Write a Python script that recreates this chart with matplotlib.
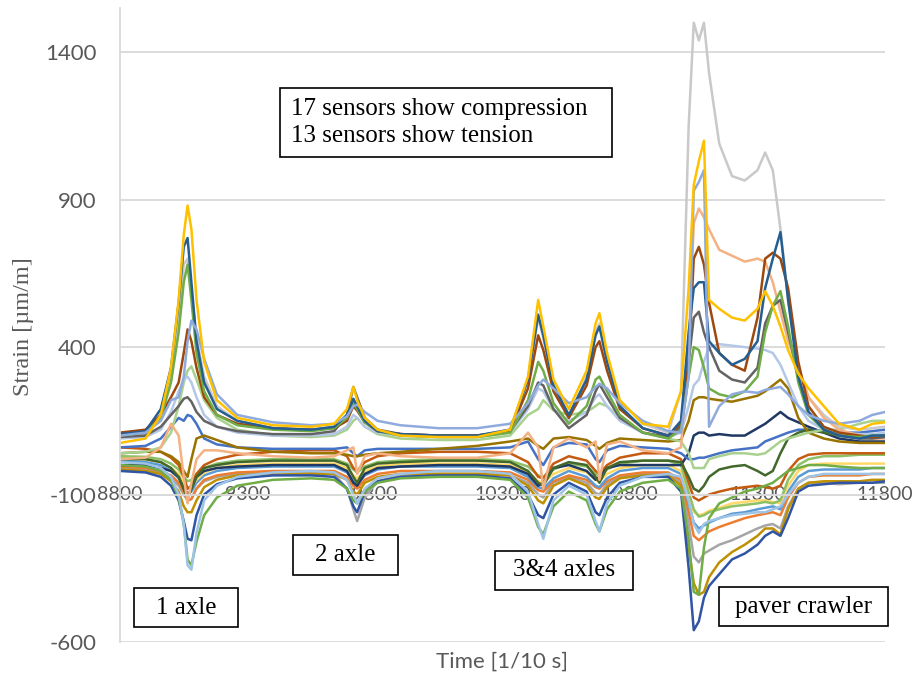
import matplotlib
matplotlib.use("Agg")
import matplotlib.pyplot as plt
from matplotlib.patches import Rectangle

plt.rcParams["axes.unicode_minus"] = False

# time grid [1/10 s] shared by all sensors
TIME = [8800, 8900, 8960, 9000, 9030, 9050, 9065, 9080, 9100, 9130,
        9180, 9260, 9400, 9550, 9640, 9690, 9715, 9730, 9760, 9810,
        9900, 10050, 10200, 10330, 10400, 10440, 10460, 10500, 10560, 10630,
        10665, 10680, 10710, 10760, 10850, 10950, 11000, 11030, 11050, 11070,
        11090, 11110, 11150, 11200, 11250, 11300, 11330, 11360, 11390, 11420,
        11460, 11500, 11560, 11620, 11700, 11750, 11800]

# strain [um/m]
S_LTGRAY = [95, 105, 170, 300, 500, 680, 700, 600, 430, 300,
            200, 150, 125, 120, 130, 160, 200, 185, 150, 120,
            105, 100, 100, 120, 290, 500, 430, 270, 160, 300,
            450, 480, 360, 220, 140, 110, 250, 1150, 1500, 1440,
            1500, 1330, 1090, 980, 965, 1000, 1060, 1000, 800, 560,
            330, 230, 170, 130, 120, 125, 130]
S_YELLOW = [75, 90, 170, 330, 560, 780, 880, 800, 560, 350,
            220, 160, 135, 130, 140, 190, 265, 220, 160, 120,
            100, 95, 95, 120, 300, 560, 470, 290, 190, 320,
            480, 515, 380, 220, 140, 130, 250, 600, 950, 1030,
            1100, 560, 530, 500, 490, 530, 590, 540, 470, 390,
            310, 260, 200, 140, 120, 140, 145]
S_DKBLUE = [105, 115, 190, 330, 550, 740, 770, 620, 420, 280,
            190, 150, 125, 120, 130, 170, 225, 200, 150, 115,
            105, 100, 100, 120, 290, 510, 440, 270, 170, 290,
            440, 470, 350, 200, 125, 100, 150, 450, 600, 620,
            620, 420, 380, 340, 360, 420, 600, 700, 790, 560,
            300, 180, 120, 100, 90, 100, 100]
S_BROWN = [110, 120, 170, 230, 280, 380, 460, 420, 330, 230,
           170, 140, 125, 120, 125, 150, 200, 185, 145, 115,
           105, 100, 100, 115, 260, 440, 390, 250, 160, 270,
           400, 420, 320, 190, 125, 100, 140, 350, 700, 740,
           680, 550, 380, 340, 320, 500, 700, 720, 700, 600,
           350, 200, 130, 110, 100, 95, 100]
S_DKGRAY = [95, 100, 130, 170, 200, 225, 230, 215, 180, 150,
            130, 115, 105, 105, 115, 170, 265, 230, 160, 120,
            105, 100, 100, 115, 200, 280, 270, 190, 125, 170,
            250, 275, 230, 160, 110, 95, 130, 350, 500, 520,
            450, 400, 320, 290, 280, 330, 480, 540, 560, 450,
            300, 180, 120, 100, 90, 90, 95]
S_GREEN = [100, 110, 160, 280, 450, 620, 680, 560, 380, 250,
           170, 135, 120, 115, 125, 160, 210, 190, 145, 115,
           100, 95, 95, 110, 220, 350, 320, 210, 140, 200,
           290, 300, 250, 170, 110, 90, 120, 300, 400, 390,
           330, 260, 240, 230, 250, 300, 450, 540, 590, 470,
           280, 170, 120, 100, 95, 100, 100]
S_LTGREEN = [40, 45, 60, 110, 200, 280, 320, 335, 290, 220,
             160, 120, 100, 95, 100, 120, 150, 160, 130, 105,
             90, 85, 85, 100, 170, 190, 220, 185, 170, 180,
             200, 210, 200, 160, 110, 90, 80, 40, -10, -10,
             -10, 20, 30, 40, 40, 35, 40, 60, 80, 90,
             100, 110, 120, 120, 140, 150, 150]
S_PERIWINKLE = [100, 110, 150, 220, 230, 300, 420, 490, 460, 360,
                240, 170, 145, 135, 140, 165, 200, 205, 180, 150,
                135, 125, 125, 140, 210, 270, 290, 260, 210, 230,
                265, 275, 260, 210, 150, 115, 110, 300, 930, 960,
                1000, 130, 200, 240, 250, 245, 255, 260, 265, 240,
                200, 170, 150, 140, 150, 170, 180]
S_LTORANGE = [20, 25, 60, 140, 100, -40, -130, -60, 20, 50,
              50, 40, 30, 25, 30, 50, 60, -30, 30, 40,
              30, 25, 25, 40, 110, 60, -80, 60, 90, 60,
              80, -50, 70, 80, 50, 40, 60, 400, 820, 870,
              840, 800, 730, 710, 690, 700, 690, 620, 520, 420,
              330, 230, 160, 120, 100, 90, 90]
S_OLIVE = [40, 45, 45, 30, 10, -20, -40, 20, 90, 100,
           85, 60, 45, 40, 40, 35, 30, 30, 35, 40,
           45, 55, 65, 80, 90, 65, 55, 90, 95, 85,
           65, 55, 75, 90, 85, 80, 85, 150, 220, 230,
           230, 225, 220, 215, 225, 235, 250, 270, 290, 260,
           160, 110, 90, 80, 75, 75, 75]
S_NAVY = [0, 0, -10, -20, -40, -80, -110, -80, -40, -20,
          -10, -5, 0, 0, 0, -20, -60, -70, -30, -10,
          -5, 0, 0, -5, -30, -70, -60, -10, 0, -20,
          -50, -40, -10, 0, 0, 0, 0, 40, 100, 110,
          110, 100, 105, 100, 100, 125, 140, 160, 180, 160,
          145, 130, 110, 90, 80, 80, 80]
S_BLUE = [60, 65, 90, 130, 160, 150, 170, 165, 140, 90,
          70, 60, 55, 55, 55, 60, 40, 30, 50, 55,
          55, 55, 55, 60, 80, 20, 0, 60, 75, 70,
          20, 10, 50, 65, 60, 55, 40, 20, 20, 25,
          25, 30, 40, 50, 55, 60, 80, 90, 100, 110,
          120, 120, 115, 110, 110, 115, 120]
S_DKGREEN = [20, 20, 10, -10, -40, -80, -110, -80, -40, -10,
             0, 10, 15, 15, 15, 0, -40, -60, -10, 5,
             10, 15, 15, 10, -20, -60, -70, -10, 10, 0,
             -40, -60, -10, 10, 15, 15, 10, -40, -80, -90,
             -70, -40, -15, -5, 0, -20, -35, -20, 40, 90,
             110, 120, 110, 100, 100, 105, 100]
S_LTBLUE = [10, 5, -10, -40, -100, -200, -340, -355, -230, -120,
            -70, -40, -25, -20, -25, -50, -100, -130, -80, -45,
            -30, -20, -20, -30, -90, -200, -250, -120, -70, -100,
            -190, -225, -130, -70, -40, -30, -40, -120, -200, -230,
            -200, -190, -180, -170, -165, -160, -160, -150, -140, -100,
            -60, -40, -30, -30, -30, -30, -30]
S_GREEN2 = [0, -5, -20, -50, -110, -200, -320, -340, -260, -170,
            -110, -70, -50, -45, -50, -80, -120, -130, -90, -60,
            -45, -40, -40, -50, -110, -210, -235, -140, -90, -120,
            -200, -225, -150, -90, -60, -50, -80, -250, -430, -440,
            -280, -180, -130, -110, -90, -80, -70, -60, -40, -20,
            -10, 0, 0, -5, -10, -10, -10]
S_BLUE2 = [-20, -25, -40, -70, -120, -190, -250, -255, -170, -100,
           -65, -45, -35, -35, -40, -80, -140, -160, -90, -55,
           -40, -35, -35, -45, -100, -170, -180, -100, -60, -90,
           -160, -170, -110, -60, -40, -40, -90, -350, -560, -530,
           -450, -410, -370, -320, -300, -270, -240, -225, -240, -180,
           -90, -70, -65, -60, -60, -60, -55]
S_GOLD = [-15, -20, -30, -55, -90, -140, -160, -160, -120, -75,
          -50, -35, -30, -30, -30, -50, -90, -100, -60, -40,
          -30, -30, -30, -35, -70, -120, -130, -70, -45, -70,
          -110, -115, -75, -45, -35, -35, -70, -280, -400, -440,
          -430, -380, -330, -295, -270, -240, -215, -215, -235, -150,
          -80, -60, -55, -55, -55, -50, -50]
S_GRAY2 = [-10, -15, -25, -45, -70, -100, -120, -115, -80, -55,
           -40, -30, -25, -25, -30, -80, -150, -190, -110, -55,
           -35, -30, -30, -35, -60, -100, -110, -60, -40, -60,
           -95, -100, -65, -40, -30, -30, -60, -200, -310, -330,
           -300, -290, -270, -255, -235, -215, -205, -200, -215, -140,
           -80, -60, -60, -65, -60, -60, -60]
S_ORANGE = [-5, -10, -20, -35, -60, -90, -120, -115, -80, -50,
            -35, -25, -20, -20, -20, -40, -70, -80, -50, -30,
            -20, -20, -20, -25, -50, -85, -90, -55, -35, -50,
            -75, -80, -55, -35, -25, -25, -50, -160, -240, -255,
            -240, -225, -210, -195, -180, -170, -165, -160, -170, -110,
            -60, -40, -35, -35, -35, -30, -30]
S_STEEL = [15, 10, 0, -20, -45, -75, -95, -90, -60, -35,
           -20, -10, -5, -5, -5, -25, -55, -65, -35, -15,
           -5, -5, -5, -10, -40, -75, -80, -45, -20, -40,
           -70, -75, -45, -20, -10, -10, -30, -130, -195, -215,
           -205, -195, -180, -165, -160, -150, -145, -140, -150, -90,
           -40, -20, -15, -15, -15, -10, -10]
S_YELLOW2 = [25, 20, 10, -10, -30, -60, -80, -75, -50, -25,
             -10, 0, 5, 5, 5, -10, -35, -45, -20, -5,
             5, 5, 5, 0, -25, -55, -60, -30, -10, -25,
             -50, -55, -30, -10, 0, 0, -20, -100, -160, -170,
             -165, -155, -145, -130, -125, -120, -120, -125, -130, -70,
             -20, 0, 5, 5, 5, 5, 5]
S_LTGREEN2 = [30, 28, 20, 5, -15, -40, -55, -50, -30, -10,
              5, 15, 20, 20, 20, 5, -15, -25, -5, 10,
              15, 20, 20, 15, -5, -35, -40, -15, 5, -5,
              -30, -35, -15, 5, 15, 15, 0, -90, -150, -175,
              -170, -160, -150, -140, -135, -130, -125, -130, -120, -50,
              0, 20, 30, 30, 35, 35, 35]
S_DKORANGE = [60, 55, 45, 25, 0, -40, -80, -70, -30, 0,
              20, 35, 45, 50, 50, 30, -10, -20, 10, 30,
              40, 45, 45, 40, 10, -40, -45, 5, 30, 15,
              -20, -30, 0, 25, 40, 40, 20, -60, -110, -120,
              -110, -100, -90, -80, -75, -70, -75, -80, -70, -20,
              20, 35, 40, 40, 40, 40, 40]
S_LTSTEEL = [90, 95, 120, 180, 250, 290, 300, 280, 230, 170,
             130, 110, 100, 100, 105, 130, 170, 160, 130, 110,
             100, 95, 95, 110, 190, 260, 250, 190, 150, 180,
             230, 240, 200, 150, 110, 95, 110, 200, 270, 290,
             350, 400, 410, 405, 400, 395, 390, 380, 340, 280,
             200, 150, 120, 110, 105, 105, 110]

X_TICKS = list(range(8800, 11801, 500))
Y_TICKS = [-600, -100, 400, 900, 1400]

# drawing order (back to front) and colours
SERIES = [
    (S_GRAY2, "#A5A5A5"), (S_ORANGE, "#ED7D31"), (S_STEEL, "#5B9BD5"),
    (S_YELLOW2, "#FFD966"), (S_LTGREEN2, "#8CC168"), (S_DKORANGE, "#C55A11"),
    (S_NAVY, "#203864"), (S_BLUE, "#4472C4"), (S_DKGREEN, "#43682B"),
    (S_OLIVE, "#997300"), (S_LTGREEN, "#A9D18E"), (S_LTSTEEL, "#B4C7E7"),
    (S_LTGRAY, "#C9C9C9"), (S_LTORANGE, "#F4B183"),
    (S_GOLD, "#BF9000"), (S_BLUE2, "#2F55A4"), (S_GREEN2, "#70AD47"),
    (S_LTBLUE, "#9DC3E6"), (S_DKGRAY, "#636363"), (S_BROWN, "#9E480E"),
    (S_GREEN, "#70AD47"), (S_DKBLUE, "#255E91"), (S_PERIWINKLE, "#8FAADC"),
    (S_YELLOW, "#FFC000"),
]

W, H = 913, 677
GRID = "#D9D9D9"
TICK = "#595959"
SANS = ["Lato", "DejaVu Sans"]
SERIF = ["Liberation Serif", "DejaVu Serif"]


def fx(px):
    return px / W


def fy(py):
    return 1 - py / H


def label_box(fig, x0, y0, x1, y1, text, ha="center", tx=None):
    fig.add_artist(Rectangle((fx(x0), fy(y1)), fx(x1) - fx(x0), fy(y0) - fy(y1),
                             transform=fig.transFigure, facecolor="white",
                             edgecolor="black", linewidth=1.2, zorder=5))
    xt = (x0 + x1) / 2 if tx is None else tx
    fig.text(fx(xt), fy((y0 + y1) / 2), text, ha=ha, va="center",
             family=SERIF, fontsize=18, color="black", linespacing=1.35,
             zorder=6)


def main():
    fig = plt.figure(figsize=(W / 100, H / 100), dpi=100)
    ax = fig.add_axes([fx(120), fy(642), fx(885) - fx(120), fy(8) - fy(642)])

    for vals, color in SERIES:
        ax.plot(TIME, vals, color=color, linewidth=1.8, solid_joinstyle="round")

    ax.set_xlim(8800, 11800)
    ax.set_ylim(-600, 1550)

    ax.set_yticks(Y_TICKS)
    ax.set_yticklabels([str(v) for v in Y_TICKS])
    ax.set_xticks(X_TICKS)
    ax.set_xticklabels([str(v) for v in X_TICKS])
    ax.grid(axis="y", color=GRID, linewidth=1.3, zorder=0)
    ax.set_axisbelow(True)

    for s in ["top", "right"]:
        ax.spines[s].set_visible(False)
    ax.spines["left"].set_color(GRID)
    ax.spines["left"].set_linewidth(1.3)
    ax.spines["bottom"].set_position(("data", -100))
    ax.spines["bottom"].set_color(GRID)
    ax.spines["bottom"].set_linewidth(1.3)

    ax.tick_params(axis="y", length=0, pad=17, labelsize=16, labelcolor=TICK)
    ax.tick_params(axis="x", length=0, pad=0, labelsize=14, labelcolor=TICK)
    for lab in ax.get_yticklabels() + ax.get_xticklabels():
        lab.set_family(SANS)
    for lab in ax.get_xticklabels():
        lab.set_verticalalignment("center")

    fig.text(fx(502), fy(662), "Time [1/10 s]", ha="center", va="center",
             family=SANS, fontsize=16, color=TICK)
    fig.text(fx(23), fy(327), "Strain [\u00b5m/m]", ha="center", va="center",
             rotation=90, family=SERIF, fontsize=17.5, color=TICK)

    label_box(fig, 280, 88, 612, 157,
              "17 sensors show compression\n13 sensors show tension",
              ha="left", tx=291)
    label_box(fig, 134, 588, 238, 627, "1 axle")
    label_box(fig, 293, 535, 398, 575, "2 axle")
    label_box(fig, 495, 551, 633, 590, "3&4 axles")
    label_box(fig, 719, 587, 888, 626, "paver crawler")

    fig.savefig("out.png", dpi=100, facecolor="white")
    plt.close(fig)


if __name__ == "__main__":
    main()
